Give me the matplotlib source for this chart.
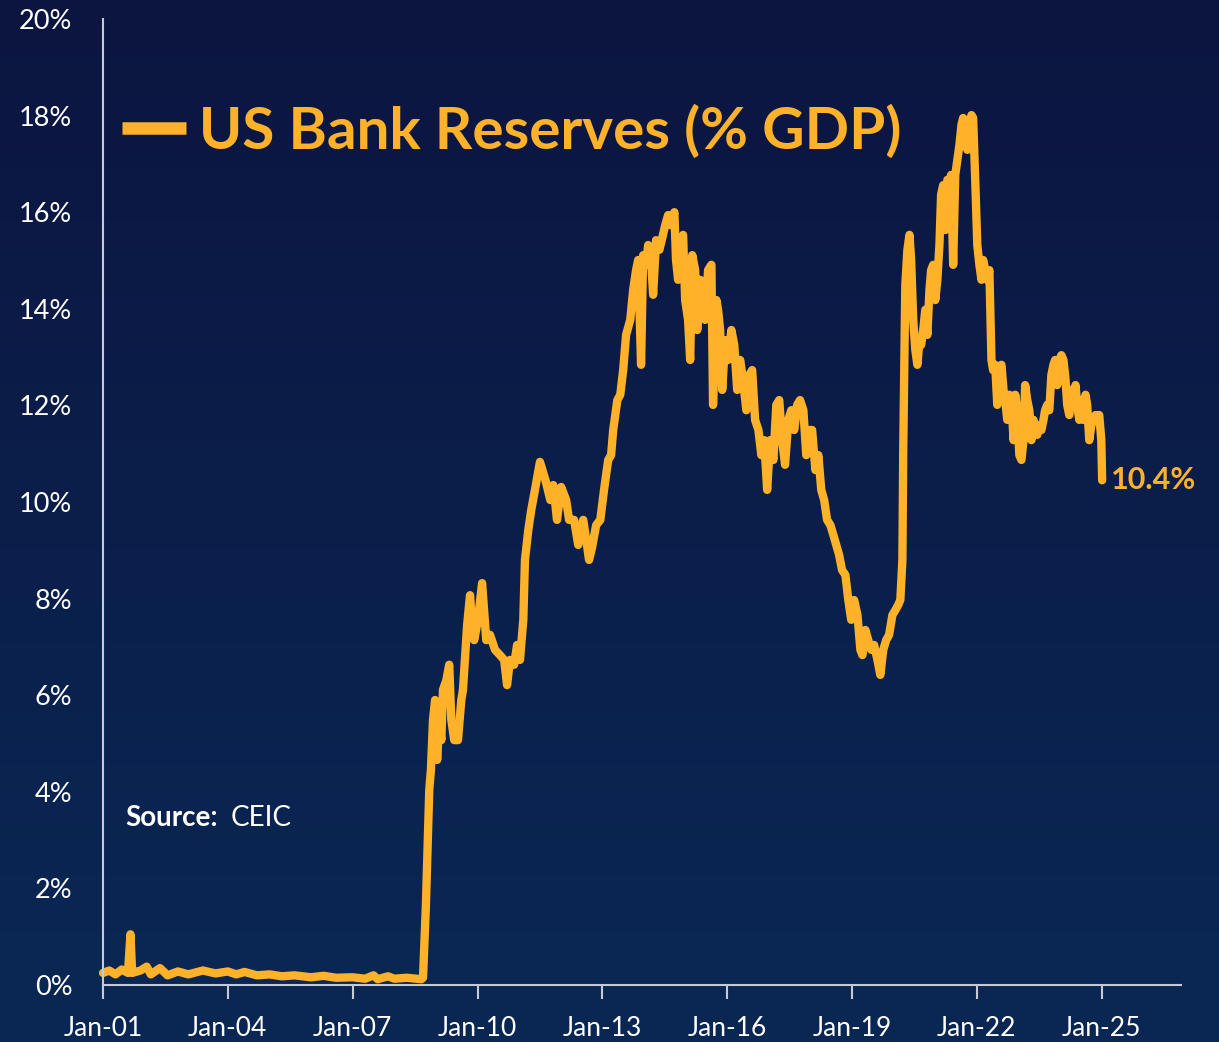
import numpy as np
import matplotlib
matplotlib.use('Agg')
import matplotlib.pyplot as plt

# US bank reserves as % of GDP (decimal years)
years = [2001.00, 2001.15, 2001.30, 2001.45, 2001.60, 2001.66, 2001.70, 2001.90, 2002.05, 2002.15,
         2002.37, 2002.55, 2002.80, 2003.05, 2003.40, 2003.70, 2004.00, 2004.20, 2004.40, 2004.70,
         2005.00, 2005.30, 2005.60, 2006.00, 2006.30, 2006.60, 2007.00, 2007.30, 2007.50, 2007.60,
         2007.85, 2008.00, 2008.30, 2008.65,
         2008.69, 2008.76, 2008.84, 2008.88, 2008.93, 2008.98, 2009.03, 2009.08, 2009.13, 2009.17,
         2009.25, 2009.32, 2009.37, 2009.44, 2009.53, 2009.61, 2009.65, 2009.75, 2009.82, 2009.87,
         2009.92, 2010.01, 2010.11, 2010.21, 2010.30, 2010.42, 2010.54, 2010.64, 2010.71, 2010.78,
         2010.88, 2010.95, 2011.02, 2011.10, 2011.14, 2011.22, 2011.29, 2011.38, 2011.50, 2011.63,
         2011.75, 2011.82, 2011.91, 2012.01, 2012.13, 2012.20, 2012.32, 2012.42, 2012.54, 2012.63,
         2012.68, 2012.75, 2012.85, 2012.95, 2013.04, 2013.14, 2013.21, 2013.26, 2013.36, 2013.43,
         2013.50, 2013.57, 2013.67, 2013.74, 2013.81, 2013.86, 2013.93, 2013.98, 2014.05, 2014.10,
         2014.17, 2014.22, 2014.29, 2014.37, 2014.44, 2014.51, 2014.58, 2014.65, 2014.73, 2014.77,
         2014.82, 2014.89, 2014.94, 2014.99, 2015.06, 2015.11, 2015.16, 2015.23, 2015.28, 2015.35,
         2015.42, 2015.47, 2015.54, 2015.62, 2015.66, 2015.74, 2015.78, 2015.83, 2015.88, 2015.95,
         2016.02, 2016.10, 2016.17, 2016.24, 2016.31, 2016.38, 2016.46, 2016.53, 2016.60, 2016.67,
         2016.75, 2016.82, 2016.89, 2016.96, 2017.03, 2017.11, 2017.18, 2017.25, 2017.32, 2017.39,
         2017.47, 2017.54, 2017.61, 2017.68, 2017.75, 2017.83, 2017.90, 2017.97, 2018.04, 2018.12,
         2018.19, 2018.26, 2018.33, 2018.40, 2018.48, 2018.55, 2018.62, 2018.69, 2018.76, 2018.84,
         2018.91, 2018.98, 2019.05, 2019.13, 2019.20, 2019.25, 2019.32, 2019.39, 2019.46, 2019.53,
         2019.61, 2019.68, 2019.75, 2019.82, 2019.89, 2019.97, 2020.04, 2020.11, 2020.16, 2020.21,
         2020.23, 2020.26, 2020.28, 2020.33, 2020.38, 2020.42, 2020.47, 2020.52, 2020.57, 2020.62,
         2020.66, 2020.71, 2020.76, 2020.81, 2020.86, 2020.90, 2020.95, 2021.00, 2021.05, 2021.10,
         2021.14, 2021.19, 2021.24, 2021.29, 2021.34, 2021.38, 2021.43, 2021.48, 2021.53, 2021.58,
         2021.63, 2021.67, 2021.72, 2021.77, 2021.82, 2021.87, 2021.91, 2021.96, 2022.01, 2022.06,
         2022.11, 2022.15, 2022.20, 2022.25, 2022.30, 2022.35, 2022.39, 2022.44, 2022.49, 2022.54,
         2022.59, 2022.64, 2022.68, 2022.73, 2022.78, 2022.83, 2022.88, 2022.92, 2022.97, 2023.02,
         2023.07, 2023.12, 2023.16, 2023.21, 2023.26, 2023.31, 2023.36, 2023.40, 2023.45, 2023.50,
         2023.55, 2023.60, 2023.64, 2023.69, 2023.74, 2023.79, 2023.84, 2023.88, 2023.93, 2023.98,
         2024.03, 2024.08, 2024.13, 2024.17, 2024.22, 2024.27, 2024.32, 2024.37, 2024.41, 2024.46,
         2024.51, 2024.56, 2024.61, 2024.65, 2024.70, 2024.75, 2024.80, 2024.85, 2024.89, 2024.94,
         2024.99, 2025.01]
reserves = [0.25, 0.30, 0.22, 0.32, 0.25, 1.05, 0.25, 0.30, 0.38, 0.22,
            0.35, 0.20, 0.28, 0.22, 0.30, 0.24, 0.28, 0.22, 0.27, 0.20,
            0.22, 0.18, 0.20, 0.16, 0.19, 0.15, 0.16, 0.13, 0.20, 0.12,
            0.18, 0.13, 0.15, 0.12,
            0.15, 1.66, 4.04, 4.45, 5.49, 5.90, 4.66, 5.49, 5.07, 6.11,
            6.31, 6.63, 5.49, 5.07, 5.07, 5.90, 6.11, 7.45, 8.07, 7.45,
            7.14, 7.56, 8.32, 7.14, 7.25, 6.94, 6.83, 6.73, 6.21, 6.73,
            6.63, 7.04, 6.73, 7.56, 8.80, 9.42, 9.83, 10.25, 10.83, 10.46,
            10.04, 10.35, 9.63, 10.31, 10.04, 9.63, 9.63, 9.11, 9.63, 9.11,
            8.80, 9.05, 9.52, 9.63, 10.25, 10.87, 10.97, 11.49, 12.11, 12.22,
            12.73, 13.46, 13.77, 14.39, 14.80, 15.01, 12.84, 15.11, 14.91, 15.32,
            15.01, 14.29, 15.42, 15.22, 15.47, 15.73, 15.94, 15.73, 16.00, 15.01,
            14.60, 15.42, 15.53, 14.18, 13.77, 12.94, 15.11, 14.80, 13.56, 14.60,
            14.39, 13.77, 14.80, 14.91, 12.01, 14.18, 13.98, 13.56, 12.32, 13.35,
            12.94, 13.56, 13.25, 12.32, 12.94, 12.53, 11.90, 12.63, 12.73, 11.70,
            11.49, 10.97, 11.28, 10.25, 11.28, 10.87, 12.01, 12.11, 11.28, 10.77,
            11.70, 11.90, 11.49, 12.01, 12.11, 11.90, 10.97, 11.49, 11.49, 10.66,
            10.97, 10.25, 10.04, 9.63, 9.52, 9.32, 9.11, 8.90, 8.59, 8.49,
            7.97, 7.56, 7.97, 7.66, 6.94, 6.83, 7.35, 7.14, 6.94, 7.04,
            6.73, 6.42, 6.94, 7.14, 7.25, 7.66, 7.76, 7.87, 7.97, 8.80,
            11.08, 13.15, 14.49, 15.22, 15.53, 15.01, 13.77, 13.15, 12.84, 13.35,
            13.25, 13.56, 13.98, 13.46, 14.39, 14.80, 14.91, 14.18, 14.60, 15.32,
            16.36, 16.56, 15.63, 16.67, 16.56, 16.77, 14.91, 16.77, 17.08, 17.39,
            17.81, 17.95, 17.49, 17.29, 17.81, 18.01, 17.95, 16.67, 15.32, 14.91,
            14.60, 15.01, 14.80, 14.60, 14.80, 12.94, 12.73, 12.84, 12.01, 12.73,
            12.84, 12.32, 12.11, 11.70, 12.22, 12.11, 11.28, 12.22, 11.90, 10.97,
            10.87, 11.28, 12.42, 12.11, 11.90, 11.28, 11.70, 11.49, 11.39, 11.59,
            11.49, 11.70, 11.90, 12.01, 11.90, 12.63, 12.84, 12.94, 12.42, 12.94,
            13.04, 12.94, 12.53, 12.01, 11.80, 12.32, 12.11, 12.42, 12.01, 11.70,
            12.11, 11.70, 12.22, 12.01, 11.28, 11.59, 11.70, 11.80, 11.70, 11.80,
            11.28, 10.45]

tick_years = [2001, 2004, 2007, 2010, 2013, 2016, 2019, 2022, 2025]
tick_labels = ['Jan-01', 'Jan-04', 'Jan-07', 'Jan-10', 'Jan-13', 'Jan-16', 'Jan-19', 'Jan-22', 'Jan-25']
y_ticks = [0, 2, 4, 6, 8, 10, 12, 14, 16, 18, 20]
last_label = '10.4%'

orange = '#FDB22A'
axis_col = '#c5cad6'
plt.rcParams['font.family'] = ['Lato', 'DejaVu Sans']

fig = plt.figure(figsize=(12.19, 10.42), dpi=100)

# navy gradient background
bg = fig.add_axes([0, 0, 1, 1], zorder=-10)
top = np.array([12, 21, 64]) / 255
bottom = np.array([10, 40, 85]) / 255
t = np.linspace(0, 1, 256)[:, None]
grad = top + (bottom - top) * t
bg.imshow(np.repeat(grad[:, None, :], 2, axis=1), aspect='auto', extent=[0, 1, 0, 1])
bg.axis('off')

ax = fig.add_axes([0.0845, 0.0547, 0.8845, 0.9271])
ax.set_facecolor('none')
ax.plot(years, reserves, color=orange, lw=6, solid_joinstyle='round',
        solid_capstyle='round', label='US Bank Reserves (% GDP)', clip_on=False)

ax.set_xlim(2001, 2026.91)
ax.set_ylim(0, 20)
ax.set_xticks(tick_years)
ax.set_xticklabels(tick_labels)
ax.set_yticks(y_ticks)
ax.set_yticklabels([f'{v}%' for v in y_ticks])
ax.tick_params(axis='x', colors=axis_col, length=10, width=1.5, labelsize=19,
               labelcolor='white', pad=12)
ax.tick_params(axis='y', length=0, labelsize=19.5, labelcolor='white', pad=22)

for s in ['top', 'right']:
    ax.spines[s].set_visible(False)
for s in ['left', 'bottom']:
    ax.spines[s].set_color(axis_col)
    ax.spines[s].set_linewidth(1.5)

leg = ax.legend(loc='upper left', bbox_to_anchor=(-0.004, 0.936), frameon=False,
                prop={'weight': 'bold', 'size': 42}, labelcolor=orange,
                handlelength=1.1, handletextpad=0.22, borderaxespad=0)
leg.get_lines()[0].set_linewidth(9)
leg.get_lines()[0].set_solid_capstyle('butt')

ax.text(years[-1] + 0.22, reserves[-1], last_label, color=orange, fontsize=22,
        fontweight='bold', ha='left', va='center')

ax.text(0.021, 0.173, 'Source:', transform=ax.transAxes, color='white',
        fontsize=20, fontweight='bold', va='center')
ax.text(0.118, 0.173, 'CEIC', transform=ax.transAxes, color='white',
        fontsize=20, va='center')

fig.savefig('out.png', dpi=100)
